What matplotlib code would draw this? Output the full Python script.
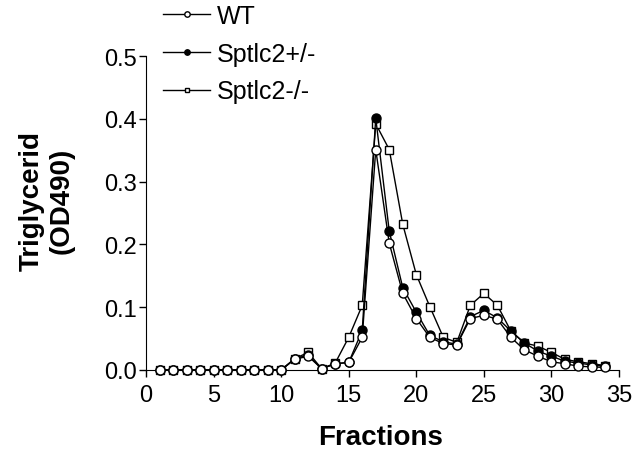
import matplotlib
matplotlib.use('Agg')
import matplotlib.pyplot as plt

plt.rcParams['font.family'] = ['Liberation Sans', 'DejaVu Sans']

fractions = list(range(1, 35))
wt = [0, 0, 0, 0, 0, 0, 0, 0, 0, 0,
      0.017, 0.022, 0.002, 0.010, 0.012, 0.052, 0.351, 0.202, 0.122, 0.082,
      0.052, 0.042, 0.040, 0.082, 0.087, 0.081, 0.052, 0.032, 0.022, 0.013,
      0.010, 0.006, 0.005, 0.004]
het = [0, 0, 0, 0, 0, 0, 0, 0, 0, 0,
       0.018, 0.024, 0.002, 0.010, 0.012, 0.063, 0.401, 0.221, 0.131, 0.092,
       0.055, 0.045, 0.041, 0.085, 0.095, 0.083, 0.062, 0.043, 0.030, 0.022,
       0.014, 0.011, 0.008, 0.006]
ko = [0, 0, 0, 0, 0, 0, 0, 0, 0, 0,
      0.018, 0.028, 0.002, 0.011, 0.052, 0.103, 0.392, 0.351, 0.232, 0.152,
      0.101, 0.052, 0.044, 0.103, 0.122, 0.103, 0.062, 0.043, 0.038, 0.028,
      0.017, 0.013, 0.010, 0.007]

fig = plt.figure(figsize=(6.42, 4.52), dpi=100)
ax = fig.add_axes([146/642, 1-371/452, 473/642, 314/452])

l3, = ax.plot(fractions, ko, color='black', lw=1, marker='s', ms=6,
              mfc='white', mec='black', mew=1, clip_on=False, zorder=3)
l2, = ax.plot(fractions, het, color='black', lw=1, marker='o', ms=6.5,
              mfc='black', mec='black', mew=1, clip_on=False, zorder=4)
l1, = ax.plot(fractions, wt, color='black', lw=1, marker='o', ms=6.5,
              mfc='white', mec='black', mew=1, clip_on=False, zorder=5)

ax.set_xlim(0, 35)
ax.set_ylim(0, 0.5)
ax.set_xticks([0, 5, 10, 15, 20, 25, 30, 35])
ax.set_yticks([0.0, 0.1, 0.2, 0.3, 0.4, 0.5])
ax.set_yticklabels(['0.0', '0.1', '0.2', '0.3', '0.4', '0.5'])
ax.spines['top'].set_visible(False)
ax.spines['right'].set_visible(False)
ax.tick_params(labelsize=17, length=5, width=1, direction='out')
ax.tick_params(axis='x', pad=5)
ax.tick_params(axis='y', pad=1.5)

fig.text(47/642, 1-201/452, 'Triglycerid\n(OD490)', rotation=90,
         ha='center', va='center', fontsize=20, fontweight='bold',
         multialignment='center', linespacing=1.2)
fig.text(381/642, 1-438/452, 'Fractions', ha='center', va='center',
         fontsize=20, fontweight='bold')

fig.legend([l1, l2, l3], ['WT', 'Sptlc2+/-', 'Sptlc2-/-'],
           loc='upper left', bbox_to_anchor=(163/642, 1-5/452),
           frameon=False, fontsize=18, handlelength=1.9, handletextpad=0.25,
           labelspacing=0.55, borderpad=0, borderaxespad=0, markerscale=0.6)

fig.savefig('out.png', dpi=100)
